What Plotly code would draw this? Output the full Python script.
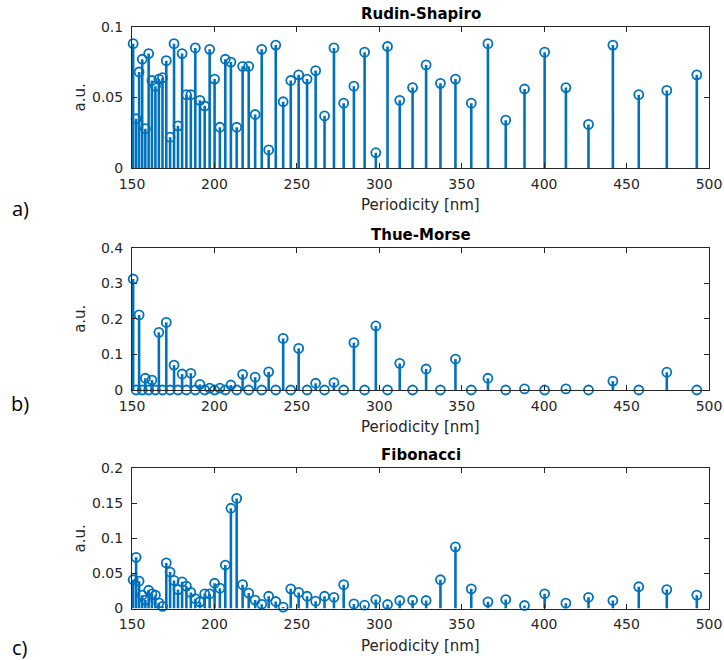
import plotly.graph_objects as go

# Periodicity positions [nm] (same set in all three panels)
periodicity = [150.7, 152.5, 154.3, 156.2, 158.1, 160.1, 162.1, 164.2, 166.3, 168.5,
               170.8, 173.1, 175.5, 177.9, 180.4, 183.0, 185.7, 188.4, 191.2, 194.1,
               197.1, 200.1, 203.3, 206.6, 210.0, 213.5, 217.1, 220.8, 224.7, 228.7,
               232.9, 237.2, 241.7, 246.3, 251.1, 256.2, 261.4, 266.8, 272.5, 278.4,
               284.6, 291.1, 297.9, 305.0, 312.4, 320.2, 328.4, 337.1, 346.2, 355.8,
               365.9, 376.7, 388.1, 400.3, 413.2, 426.9, 441.7, 457.4, 474.4, 492.6]

rudin_shapiro = [0.088, 0.035, 0.068, 0.077, 0.028, 0.081, 0.062, 0.058, 0.063, 0.064,
                 0.076, 0.022, 0.088, 0.030, 0.081, 0.052, 0.052, 0.085, 0.048, 0.044,
                 0.084, 0.063, 0.029, 0.077, 0.075, 0.029, 0.072, 0.072, 0.038, 0.084,
                 0.013, 0.087, 0.047, 0.062, 0.066, 0.063, 0.069, 0.037, 0.085, 0.046,
                 0.058, 0.082, 0.011, 0.086, 0.048, 0.057, 0.073, 0.060, 0.063, 0.046,
                 0.088, 0.034, 0.056, 0.082, 0.057, 0.031, 0.087, 0.052, 0.055, 0.066]

thue_morse = [0.312, 0.000, 0.211, 0.000, 0.033, 0.000, 0.028, 0.000, 0.162, 0.000,
              0.190, 0.000, 0.070, 0.000, 0.045, 0.000, 0.047, 0.000, 0.016, 0.000,
              0.005, 0.000, 0.005, 0.000, 0.014, 0.000, 0.044, 0.000, 0.036, 0.000,
              0.051, 0.000, 0.145, 0.000, 0.117, 0.000, 0.019, 0.000, 0.021, 0.000,
              0.133, 0.000, 0.180, 0.000, 0.075, 0.000, 0.059, 0.000, 0.087, 0.000,
              0.033, 0.000, 0.003, 0.000, 0.003, 0.000, 0.025, 0.000, 0.050, 0.000]

fibonacci = [0.041, 0.073, 0.039, 0.019, 0.012, 0.026, 0.021, 0.019, 0.008, 0.003,
             0.065, 0.052, 0.040, 0.027, 0.038, 0.032, 0.023, 0.014, 0.0095, 0.021,
             0.021, 0.036, 0.029, 0.062, 0.143, 0.157, 0.034, 0.022, 0.012, 0.006,
             0.0175, 0.010, 0.002, 0.028, 0.023, 0.0175, 0.0105, 0.0175, 0.016, 0.034,
             0.0065, 0.0047, 0.0128, 0.0057, 0.0114, 0.0118, 0.0114, 0.041, 0.088, 0.028,
             0.0095, 0.0128, 0.0043, 0.021, 0.0076, 0.016, 0.0114, 0.031, 0.027, 0.019]

titles = ["Rudin-Shapiro", "Thue-Morse", "Fibonacci"]
panel_letters = ["a)", "b)", "c)"]
y_ranges = [[0, 0.1], [0, 0.4], [0, 0.2]]
y_ticks = [[0, 0.05, 0.1], [0, 0.1, 0.2, 0.3, 0.4], [0, 0.05, 0.1, 0.15, 0.2]]
x_ticks = [150, 200, 250, 300, 350, 400, 450, 500]
series = [rudin_shapiro, thue_morse, fibonacci]

W, H = 724, 660
BLUE = "#0072BD"
AX = "#262626"
# plot area boxes in window pixels (top, bottom)
boxes = [(26.7, 168.3), (247.7, 390.0), (468.3, 608.5)]
letter_y = [208, 404, 647]
x_left, x_right = 132, 709


def px(x):
    return x / W


def py(y):
    return 1 - y / H


fig = go.Figure()
annotations = []
for i in range(3):
    n = "" if i == 0 else str(i + 1)
    vals = series[i]
    fig.add_trace(go.Scatter(
        x=periodicity, y=vals, mode="markers",
        xaxis="x" + n, yaxis="y" + n,
        marker=dict(symbol="circle-open", size=9, color=BLUE, line=dict(width=1.8, color=BLUE)),
        error_y=dict(type="data", symmetric=False, array=[0] * len(vals), arrayminus=vals,
                     thickness=2.6, width=0, color=BLUE),
        cliponaxis=False, showlegend=False, hoverinfo="x+y"))
    top, bot = boxes[i]
    axis_common = dict(showline=True, linecolor=AX, linewidth=1, mirror="ticks",
                       ticks="inside", ticklen=5, tickcolor=AX, showgrid=False, zeroline=False,
                       automargin=False,
                       tickfont=dict(family="DejaVu Sans", size=14, color=AX))
    fig.layout["xaxis" + n] = dict(domain=[px(x_left), px(x_right)], range=[150, 500],
                                   tickvals=x_ticks, anchor="y" + n, ticklabelstandoff=3,
                                   **axis_common)
    fig.layout["yaxis" + n] = dict(domain=[py(bot), py(top)], range=y_ranges[i],
                                   tickvals=y_ticks[i], ticktext=[f"{v:g}" for v in y_ticks[i]],
                                   anchor="x" + n, ticklabelstandoff=5, **axis_common)
    cx = px((x_left + x_right) / 2)
    # subplot title
    annotations.append(dict(text="<b>" + titles[i] + "</b>", x=cx, y=py(top - 13),
                            xref="paper", yref="paper", showarrow=False,
                            xanchor="center", yanchor="middle",
                            font=dict(family="DejaVu Sans", size=15, color="black")))
    # x-axis title
    annotations.append(dict(text="Periodicity [nm]", x=cx, y=py(bot + 37),
                            xref="paper", yref="paper", showarrow=False,
                            xanchor="center", yanchor="middle",
                            font=dict(family="DejaVu Sans", size=15, color=AX)))
    # y-axis title
    annotations.append(dict(text="a.u.", x=px(80), y=py((top + bot) / 2),
                            xref="paper", yref="paper", showarrow=False, textangle=-90,
                            xanchor="center", yanchor="middle",
                            font=dict(family="DejaVu Sans", size=15, color=AX)))
    # panel letter
    annotations.append(dict(text=panel_letters[i], x=px(20), y=py(letter_y[i]),
                            xref="paper", yref="paper", showarrow=False,
                            xanchor="center", yanchor="middle",
                            font=dict(family="Open Sans", size=20, color="black")))

fig.update_layout(width=W, height=H, margin=dict(l=0, r=0, t=0, b=0),
                  paper_bgcolor="white", plot_bgcolor="white", annotations=annotations)
# remove the default 8px page margin so the 724x660 figure fills the window exactly
fig.write_html("out.html", config={"displayModeBar": False},
               post_script="document.body.style.margin='0';document.body.style.overflow='hidden';")
